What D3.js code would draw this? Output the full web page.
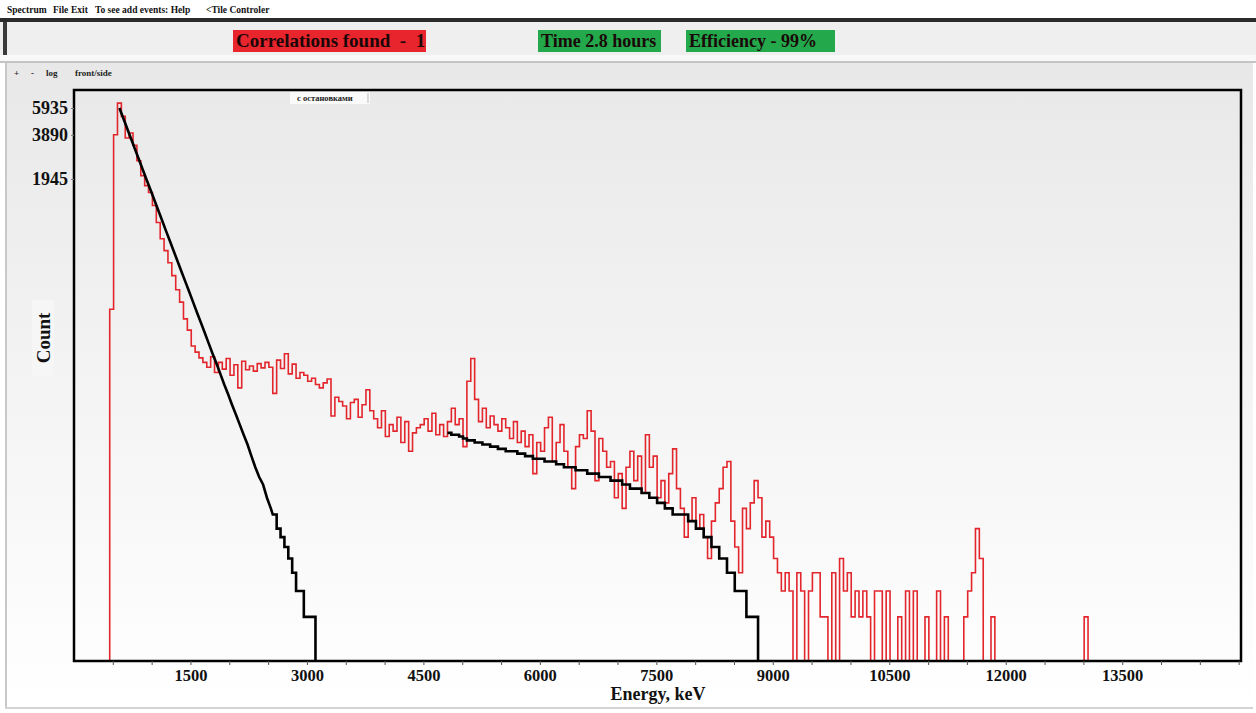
<!DOCTYPE html>
<html>
<head>
<meta charset="utf-8">
<script src="https://cdn.jsdelivr.net/npm/d3@7"></script>
<style>
  body { margin: 0; background: #fff; }
  svg { display: block; font-family: "Liberation Serif", "DejaVu Serif", serif; font-weight: bold; }
</style>
</head>
<body>
<svg id="chart" width="1256" height="713"></svg>
<script>
// ---- data ----
const menuItems = ["Spectrum", "File", "Exit", "To see add events: Help", "<Tile Controler"];
const toolItems = ["+", "-", "log", "front/side"];
const yTickValues = [1945, 3890, 5935];
const xTickLabels = [1500, 3000, 4500, 6000, 7500, 9000, 10500, 12000, 13500];

// histogram bins (keV)
const binStart = 460;
const binWidth = 50;

// measured spectrum, counts per bin starting at binStart
const redCounts = [
  250, 3900, 6400, 5200, 3700, 4000, 3300, 2590, 2050, 1750,
  1570, 1280, 980, 760, 630, 520, 425, 340, 280, 215,
  180, 140, 127, 116, 108, 100, 118, 92, 108, 97,
  115, 88, 104, 72, 110, 96, 102, 94, 106, 99,
  108, 100, 66, 112, 98, 124, 90, 105, 84, 92,
  88, 80, 84, 76, 72, 78, 83, 46, 62, 58,
  54, 44, 57, 60, 45, 55, 70, 50, 44, 38,
  50, 33, 40, 36, 45, 30, 42, 26, 35, 38,
  40, 44, 36, 48, 34, 40, 33, 42, 52, 40,
  44, 28, 80, 115, 60, 42, 52, 38, 46, 40,
  36, 44, 38, 32, 42, 30, 36, 28, 34, 18,
  30, 26, 38, 45, 22, 30, 40, 26, 20, 14,
  28, 34, 32, 50, 36, 16, 32, 26, 20, 22,
  12, 18, 10, 20, 26, 16, 24, 13, 34, 20,
  24, 12, 16, 11, 18, 27, 14, 10, 6, 8,
  12, 7, 9, 6, 4, 8, 11, 14, 20, 22,
  8, 5, 3, 10, 7, 11, 16, 12, 6, 8,
  6, 4, 3, 2, 3, 2, 0, 3, 2, 0,
  2, 3, 3, 1, 1, 0, 3, 0, 4, 2,
  3, 1, 2, 1, 2, 1, 0, 2, 2, 0,
  2, 0, 0, 1, 0, 2, 0, 2, 0, 0,
  1, 0, 0, 2, 0, 1, 0, 0, 0, 0,
  1, 2, 3, 7, 4, 0, 0, 1, 0, 0,
  0, 0, 0, 0, 0, 0, 0, 0, 0, 0,
  0, 0, 0, 0, 0, 0, 0, 0, 0, 0,
  0, 1
];

// low-energy fit (black), starts at 560 keV
const fitLowStart = 560;
const fitLowCounts = [
  5930, 5047, 4295, 3663, 3118, 2654, 2259, 1923, 1640, 1396,
  1188, 1011, 860, 734, 624, 531, 452, 385, 328, 279,
  237, 202, 172, 146, 124, 106, 90, 76, 65, 55,
  47, 40, 34, 29, 24, 20, 17, 15, 12, 10,
  9, 7, 6, 5, 4, 3, 2, 2, 1, 1, 1
];

// high-energy fit (black), starts at 4810 keV
const fitHighStart = 4810;
const fitHighCounts = [
  35, 34, 34, 33, 32, 31, 31, 30, 30, 29,
  29, 28, 28, 27, 27, 26, 26, 26, 25, 25,
  24, 24, 23, 23, 23, 22, 22, 22, 21, 21,
  20, 20, 20, 19, 19, 19, 18, 18, 18, 17,
  17, 17, 16, 16, 16, 15, 15, 14, 14, 14,
  13, 13, 12, 12, 11, 11, 10, 10, 9, 9,
  9, 9, 8, 8, 7, 7, 6, 6, 5, 5,
  4, 4, 3, 3, 2, 2, 2, 1, 1, 1
];

// ---- page chrome ----
const svg = d3.select("#chart");
const W = 1256, H = 713;

const defs = svg.append("defs");
const grad = defs.append("linearGradient")
  .attr("id", "panelGrad")
  .attr("x1", 0).attr("y1", 0).attr("x2", 0).attr("y2", 1);
grad.append("stop").attr("offset", "0%").attr("stop-color", "#e8e8e8");
grad.append("stop").attr("offset", "100%").attr("stop-color", "#ffffff");

svg.append("rect").attr("width", W).attr("height", H).attr("fill", "#fff");

// menu line
const menuX = [7, 53, 71, 95, 206];
svg.selectAll(".menu")
  .data(menuItems)
  .enter()
  .append("text")
  .attr("class", "menu")
  .attr("x", (d, i) => menuX[i])
  .attr("y", 13)
  .attr("font-size", "9.5px")
  .attr("fill", "#111")
  .text(d => d);

// dark bar under the menu
svg.append("rect").attr("x", 0).attr("y", 18).attr("width", W).attr("height", 4).attr("fill", "#2b2b2b");

// header panel
svg.append("rect").attr("x", 0).attr("y", 22).attr("width", W).attr("height", 33).attr("fill", "#efefef");
svg.append("rect").attr("x", 3).attr("y", 22).attr("width", 4).attr("height", 35).attr("fill", "#3a3a3a");
svg.append("rect").attr("x", 0).attr("y", 55).attr("width", W).attr("height", 6).attr("fill", "#f8f8f8");
svg.append("rect").attr("x", 0).attr("y", 61).attr("width", W).attr("height", 2).attr("fill", "#c4c4c4");

const boxes = [
  { text: "Correlations found  -  1", x: 233, w: 193, fill: "#e8242c", size: 19 },
  { text: "Time 2.8 hours", x: 538, w: 123, fill: "#23a84c", size: 18 },
  { text: "Efficiency - 99%", x: 686, w: 149, fill: "#23a84c", size: 18 }
];
boxes.forEach(b => {
  svg.append("rect").attr("x", b.x).attr("y", 30).attr("width", b.w).attr("height", 22).attr("fill", b.fill);
  svg.append("text")
    .attr("x", b.x + 3)
    .attr("y", 47)
    .attr("font-size", b.size + "px")
    .attr("fill", "#1a0808")
    .style("white-space", "pre")
    .text(b.text);
});

// main panel
svg.append("rect").attr("x", 6).attr("y", 63).attr("width", W - 9).attr("height", 645).attr("fill", "url(#panelGrad)");
svg.append("rect").attr("x", 5).attr("y", 63).attr("width", 2).attr("height", 645).attr("fill", "#c8c8c8");
svg.append("rect").attr("x", 5).attr("y", 707).attr("width", W - 8).attr("height", 2).attr("fill", "#d4d4d4");

const toolX = [14, 31, 46, 75];
svg.selectAll(".tool")
  .data(toolItems)
  .enter()
  .append("text")
  .attr("class", "tool")
  .attr("x", (d, i) => toolX[i])
  .attr("y", 76)
  .attr("font-size", "9px")
  .attr("fill", "#222")
  .text(d => d);

// ---- plot ----
const plotLeft = 74, plotRight = 1241, plotTop = 90, plotBottom = 661;

const x = d3.scaleLinear().domain([0, 15030]).range([plotLeft, plotRight]);
const y = d3.scaleSymlog().constant(1).domain([0, 7870]).range([plotBottom, plotTop]);

// label boxes inside / beside the plot
svg.append("rect").attr("x", 290).attr("y", 92).attr("width", 80).attr("height", 12).attr("fill", "#fafafa");
svg.append("line").attr("x1", 368).attr("x2", 368).attr("y1", 93).attr("y2", 103).attr("stroke", "#bbb").attr("stroke-width", 1);
svg.append("text")
  .attr("x", 297).attr("y", 101)
  .attr("font-size", "8.5px")
  .attr("fill", "#222")
  .text("с остановками");

svg.append("rect").attr("x", 32).attr("y", 300).attr("width", 22).attr("height", 76).attr("fill", "#f6f6f6");
svg.append("text")
  .attr("transform", "translate(50,338) rotate(-90)")
  .attr("text-anchor", "middle")
  .attr("font-size", "19px")
  .attr("fill", "#111")
  .text("Count");

// histogram paths (step outline down to baseline at both ends)
const stepLine = d3.line()
  .x(d => x(d[0]))
  .y(d => y(d[1]))
  .curve(d3.curveStepAfter);

function histPoints(start, counts) {
  const pts = [[start, 0]];
  counts.forEach((c, i) => pts.push([start + i * binWidth, c]));
  pts.push([start + counts.length * binWidth, 0]);
  return pts;
}

// fit curve: straight segments through bin centres while the counts are high,
// flat steps once the counts get small, then down to the baseline
const plainLine = d3.line()
  .x(d => x(d[0]))
  .y(d => y(d[1]));

function fitPoints(start, counts, smoothAbove) {
  const pts = [];
  counts.forEach((c, i) => {
    const lo = start + i * binWidth;
    if (c >= smoothAbove) {
      pts.push([lo + binWidth / 2, c]);
    } else {
      pts.push([lo, c]);
      pts.push([lo + binWidth, c]);
    }
  });
  pts.push([start + counts.length * binWidth, 0]);
  return pts;
}

svg.append("path")
  .datum(histPoints(binStart, redCounts))
  .attr("d", stepLine)
  .attr("fill", "none")
  .attr("stroke", "#e2262c")
  .attr("stroke-width", 1.6)
  .attr("stroke-linejoin", "miter");

svg.append("path")
  .datum(fitPoints(fitLowStart, fitLowCounts, 10))
  .attr("d", plainLine)
  .attr("fill", "none")
  .attr("stroke", "#000")
  .attr("stroke-width", 2.6);

svg.append("path")
  .datum(histPoints(fitHighStart, fitHighCounts).slice(1))
  .attr("d", stepLine)
  .attr("fill", "none")
  .attr("stroke", "#000")
  .attr("stroke-width", 2.6);

// frame
svg.append("rect")
  .attr("x", plotLeft).attr("y", plotTop)
  .attr("width", plotRight - plotLeft).attr("height", plotBottom - plotTop)
  .attr("fill", "none")
  .attr("stroke", "#000")
  .attr("stroke-width", 2.5);

// axes
const xAxis = d3.axisBottom(x)
  .tickValues(d3.range(500, 15001, 500))
  .tickSize(4)
  .tickPadding(4)
  .tickFormat(d => xTickLabels.includes(d) ? d : "");

const gx = svg.append("g")
  .attr("transform", `translate(0,${plotBottom})`)
  .call(xAxis);
gx.select(".domain").remove();
gx.selectAll("line").attr("stroke", "#555");
gx.selectAll("text")
  .attr("font-size", "16.5px")
  .attr("font-family", "Liberation Serif, serif")
  .attr("font-weight", "bold")
  .attr("fill", "#111");

const yAxis = d3.axisLeft(y)
  .tickValues(yTickValues)
  .tickSize(3)
  .tickPadding(3)
  .tickFormat(d => d);

const gy = svg.append("g")
  .attr("transform", `translate(${plotLeft},0)`)
  .call(yAxis);
gy.select(".domain").remove();
gy.selectAll("line").attr("stroke", "#777");
gy.selectAll("text")
  .attr("font-size", "18px")
  .attr("font-family", "Liberation Serif, serif")
  .attr("font-weight", "bold")
  .attr("fill", "#111");

svg.append("text")
  .attr("x", 658)
  .attr("y", 700)
  .attr("text-anchor", "middle")
  .attr("font-size", "18px")
  .attr("fill", "#111")
  .text("Energy, keV");
</script>
</body>
</html>
